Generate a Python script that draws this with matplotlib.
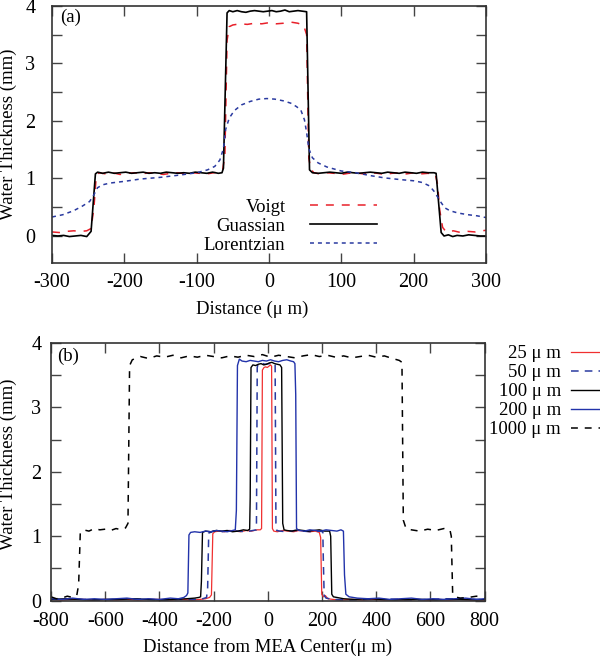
import numpy as np
import matplotlib
matplotlib.use('Agg')
import matplotlib.pyplot as plt
from matplotlib.ticker import MultipleLocator

plt.rcParams['font.family'] = 'Liberation Serif'
plt.rcParams['axes.unicode_minus'] = False
plt.rcParams['font.size'] = 13

# ---- panel (a) data ----
gauss_x = [-300,-292,-284,-276,-268,-260,-252,-246,-240,-237,-230,-222,-214,-206,-198,-190,-182,-174,-166,-158,
           -150,-142,-134,-126,-118,-110,-102,-94,-86,-78,-70,-65,-63,-58,-55,-50,-44,-38,-32,-26,
           -20,-14,-8,-2,4,10,16,22,28,34,40,46,52,56,60,68,76,84,92,100,
           108,116,124,132,140,148,156,164,172,180,188,196,204,212,220,228,231,238,242,248,
           254,260,268,276,284,292,300]
gauss_y = [0.01,0.00,0.01,-0.01,0.00,0.01,-0.01,0.08,1.08,1.11,1.09,1.11,1.09,1.10,1.11,1.09,1.10,1.11,1.09,1.10,
           1.09,1.11,1.10,1.09,1.10,1.09,1.11,1.10,1.09,1.11,1.09,1.10,1.18,3.88,3.92,3.90,3.92,3.90,3.89,3.91,
           3.92,3.91,3.90,3.91,3.92,3.90,3.91,3.93,3.90,3.91,3.92,3.91,3.90,1.15,1.10,1.09,1.10,1.11,1.10,1.09,
           1.11,1.10,1.09,1.10,1.11,1.10,1.09,1.11,1.10,1.09,1.11,1.10,1.09,1.11,1.10,1.10,1.09,0.06,0.00,0.02,
           -0.01,0.01,0.00,0.02,0.01,0.00,0.00]

voigt_x = [-300,-290,-280,-270,-260,-252,-246,-242,-239,-235,-226,-216,-206,-196,-186,-176,-166,-156,-146,-136,
           -126,-116,-106,-96,-86,-76,-68,-64,-61,-58,-55,-50,-40,-30,-20,-10,0,10,20,30,
           40,48,52,55,58,62,70,80,90,100,110,120,130,140,150,160,170,180,190,200,
           210,220,230,233,236,240,245,255,265,275,285,295,300]
voigt_y = [0.07,0.06,0.08,0.09,0.08,0.09,0.13,0.50,1.02,1.10,1.08,1.10,1.07,1.09,1.10,1.08,1.10,1.09,1.07,1.09,
           1.10,1.08,1.10,1.09,1.08,1.10,1.11,1.16,1.40,3.40,3.64,3.67,3.69,3.68,3.70,3.69,3.71,3.69,3.70,3.72,
           3.70,3.66,3.50,1.35,1.16,1.10,1.08,1.10,1.09,1.07,1.09,1.10,1.08,1.10,1.09,1.07,1.09,1.10,1.08,1.10,
           1.08,1.09,1.07,0.90,0.45,0.15,0.07,0.09,0.06,0.08,0.07,0.09,0.10]

lorentz_x = [-300,-285,-270,-258,-248,-242,-237,-230,-220,-200,-178,-150,-123,-100,-85,-75,-68,-63,-60,-55,
             -48,-38,-26,-14,-3,8,20,30,38,44,49,52,55,60,68,80,100,120,140,160,
             182,200,212,222,228,233,238,243,250,261,275,288,300]
lorentz_y = [0.33,0.37,0.44,0.52,0.60,0.72,0.84,0.89,0.92,0.95,0.99,1.02,1.06,1.10,1.15,1.21,1.32,1.52,1.85,2.05,
             2.18,2.28,2.34,2.38,2.39,2.38,2.35,2.31,2.25,2.19,2.02,1.80,1.52,1.36,1.27,1.20,1.13,1.10,1.05,1.01,
             0.98,0.96,0.93,0.87,0.78,0.68,0.58,0.49,0.44,0.40,0.37,0.35,0.32]

# ---- panel (b) data ----
x25 = [-800,-760,-720,-680,-640,-600,-560,-520,-480,-440,-400,-360,-320,-280,-250,-230,-215,-208,-203,-196,
       -180,-160,-140,-120,-100,-80,-60,-40,-28,-23,-20,-14,-8,-2,4,10,14,17,22,35,
       55,75,95,115,135,155,175,190,195,199,205,212,222,240,270,310,350,390,430,470,
       510,550,590,630,670,710,750,800]
y25 = [0.02,0.01,0.02,0.02,0.01,0.02,0.01,0.02,0.01,0.02,0.02,0.01,0.02,0.01,0.02,0.03,0.05,0.09,1.04,1.07,
       1.08,1.07,1.09,1.08,1.07,1.09,1.08,1.10,1.10,1.12,3.58,3.62,3.63,3.62,3.64,3.66,3.64,1.12,1.08,1.07,
       1.09,1.08,1.07,1.09,1.08,1.07,1.08,1.06,0.98,0.10,0.06,0.08,0.03,0.02,0.01,0.02,0.01,0.02,0.01,0.02,
       0.01,0.02,0.01,0.02,0.01,0.02,0.01,0.01]

x50 = [-800,-740,-680,-620,-560,-500,-440,-380,-320,-270,-240,-226,-222,-218,-200,-170,-140,-110,-80,-55,
       -42,-39,-36,-25,-10,5,20,27,30,33,45,70,100,130,160,190,203,205,208,215,
       240,300,360,420,480,540,600,660,720,800]
y50 = [0.02,0.03,0.02,0.01,0.02,0.03,0.02,0.01,0.02,0.02,0.03,0.05,0.20,1.05,1.08,1.07,1.09,1.08,1.07,1.09,
       1.10,3.62,3.68,3.69,3.67,3.68,3.70,3.66,1.20,1.09,1.08,1.07,1.09,1.08,1.07,1.08,1.07,0.60,0.08,0.04,
       0.02,0.01,0.02,0.03,0.02,0.01,0.02,0.03,0.02,0.02]

x100 = [-800,-750,-700,-650,-600,-550,-500,-450,-400,-350,-300,-270,-255,-248,-245,-241,-230,-210,-190,-170,
        -150,-130,-110,-90,-75,-67,-65,-62,-55,-45,-35,-25,-15,-5,5,15,25,35,45,51,
        55,60,70,90,110,130,150,170,190,210,228,232,236,242,255,280,320,370,420,470,
        520,570,620,670,720,770,800]
y100 = [0.02,0.03,0.02,0.01,0.02,0.02,0.03,0.02,0.01,0.02,0.03,0.04,0.05,0.06,0.30,1.06,1.08,1.07,1.09,1.08,
        1.09,1.07,1.08,1.10,1.09,1.11,1.60,3.62,3.66,3.65,3.67,3.68,3.66,3.67,3.69,3.70,3.68,3.67,3.66,3.62,
        1.20,1.10,1.09,1.08,1.10,1.09,1.08,1.09,1.10,1.08,1.08,1.00,0.10,0.06,0.05,0.03,0.02,0.03,0.02,0.01,
        0.02,0.02,0.01,0.02,0.02,0.01,0.02]

x200 = [-800,-760,-720,-680,-640,-600,-560,-520,-480,-440,-400,-360,-330,-310,-300,-295,-291,-285,-270,-250,
        -230,-210,-190,-170,-150,-130,-120,-116,-112,-105,-95,-80,-65,-50,-35,-20,-5,10,25,40,
        55,70,85,95,100,103,106,115,135,155,175,195,215,235,255,270,279,283,288,300,
        330,370,410,450,490,530,570,610,650,690,730,770,800]
y200 = [0.03,0.02,0.04,0.02,0.03,0.02,0.03,0.04,0.02,0.03,0.02,0.04,0.03,0.05,0.08,0.12,1.02,1.06,1.07,1.06,
        1.08,1.07,1.09,1.08,1.07,1.09,1.10,1.40,3.65,3.75,3.72,3.71,3.73,3.72,3.71,3.73,3.72,3.74,3.72,3.71,
        3.73,3.74,3.72,3.71,3.68,3.20,1.12,1.09,1.08,1.10,1.09,1.08,1.10,1.09,1.08,1.10,1.08,0.40,0.10,0.06,
        0.04,0.03,0.04,0.02,0.03,0.04,0.02,0.03,0.02,0.03,0.04,0.02,0.03]

x1000 = [-800,-780,-760,-740,-720,-705,-698,-692,-680,-660,-640,-620,-600,-580,-560,-540,-525,-516,-510,-500,
         -470,-440,-410,-380,-350,-320,-290,-260,-230,-200,-170,-140,-110,-80,-50,-20,10,40,70,100,
         130,160,190,220,250,280,310,340,370,400,430,460,485,495,500,510,530,560,590,620,
         650,672,677,682,690,710,740,770,800]
y1000 = [0.06,0.03,0.04,0.07,0.05,0.08,0.25,1.05,1.10,1.08,1.12,1.10,1.11,1.09,1.12,1.10,1.13,1.20,3.65,3.74,
         3.79,3.76,3.80,3.78,3.81,3.77,3.80,3.78,3.81,3.79,3.77,3.80,3.78,3.81,3.79,3.82,3.78,3.81,3.79,3.77,
         3.80,3.82,3.79,3.81,3.78,3.80,3.77,3.79,3.81,3.78,3.80,3.76,3.73,3.70,1.25,1.12,1.10,1.08,1.11,1.09,
         1.12,1.10,1.00,0.12,0.06,0.04,0.05,0.07,0.04]

red = '#e8202a'
blue = '#2a3aa0'
frame = '#333333'
fs = 13.5
tick_fs = 14.5

fig = plt.figure(figsize=(6.0, 6.58), dpi=100)
ax1 = fig.add_axes([0.0867, 0.6003, 0.7233, 0.3906])
ax2 = fig.add_axes([0.085, 0.0871, 0.7227, 0.3916])


def style(ax):
    for s in ax.spines.values():
        s.set_color(frame)
        s.set_linewidth(1.2)
    ax.tick_params(which='both', direction='in', top=True, right=True,
                   length=7, width=1.0, color='#444444', labelsize=tick_fs)
    ax.yaxis.set_minor_locator(MultipleLocator(0.5))


# panel (a)
ax1.plot(voigt_x, voigt_y, color=red, lw=1.1, dashes=(5.2, 5.2), label='Voigt')
ax1.plot(gauss_x, gauss_y, color='black', lw=1.2, label='Guassian')
ax1.plot(lorentz_x, lorentz_y, color=blue, lw=1.1, dashes=(2.6, 2.6), label='Lorentzian')
ax1.set_xlim(-300, 300)
ax1.set_ylim(-0.47, 4)
ax1.xaxis.set_major_locator(MultipleLocator(100))
ax1.yaxis.set_major_locator(MultipleLocator(1))
style(ax1)
ax1.tick_params(axis='y', pad=12)
ax1.tick_params(axis='x', pad=7)
ax1.set_xlabel('Distance (μ m)', fontsize=fs)
ax1.set_ylabel('Water Thickness (mm)', fontsize=fs)
ax1.xaxis.set_label_coords(0.462, -0.148)
ax1.yaxis.set_label_coords(-0.081, 0.5)
ax1.text(0.018, 0.99, '(a)', transform=ax1.transAxes, va='top', ha='left', fontsize=fs)
ax1.legend(loc='lower right', bbox_to_anchor=(0.749, 0.035), frameon=False, markerfirst=False,
           handlelength=3.6, handletextpad=1.28, labelspacing=0.1, borderpad=0, borderaxespad=0,
           fontsize=fs)

# panel (b)
ax2.plot(x25, y25, color='#f03030', lw=0.9, label='25 μ m')
ax2.plot(x50, y50, color=blue, lw=1.1, dashes=(5, 4), label='50 μ m')
ax2.plot(x100, y100, color='black', lw=1.0, label='100 μ m')
ax2.plot(x200, y200, color='#2233aa', lw=1.0, label='200 μ m')
ax2.plot(x1000, y1000, color='black', lw=1.1, dashes=(4.5, 4.5), label='1000 μ m')
ax2.set_xlim(-800, 800)
ax2.set_ylim(0, 4)
ax2.xaxis.set_major_locator(MultipleLocator(200))
ax2.yaxis.set_major_locator(MultipleLocator(1))
style(ax2)
ax2.tick_params(axis='y', pad=7)
ax2.tick_params(axis='x', pad=8)
ax2.set_xlabel('Distance from MEA Center(μ m)', fontsize=fs)
ax2.set_ylabel('Water Thickness (mm)', fontsize=fs)
ax2.xaxis.set_label_coords(0.5, -0.145)
ax2.yaxis.set_label_coords(-0.078, 0.53)
ax2.text(0.014, 0.98, '(b)', transform=ax2.transAxes, va='top', ha='left', fontsize=fs)
ax2.legend(loc='upper right', bbox_to_anchor=(618 / 600, 0.4757), bbox_transform=fig.transFigure,
           frameon=False, markerfirst=False, handlelength=2.5, handletextpad=0.55,
           labelspacing=0.1, borderpad=0, borderaxespad=0, fontsize=fs)

fig.savefig('out.png', dpi=100)
